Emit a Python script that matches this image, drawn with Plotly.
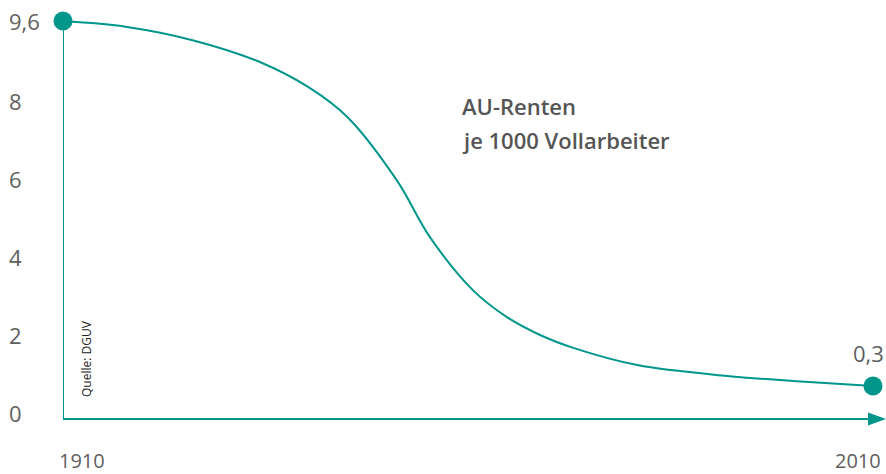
import plotly.graph_objects as go

# ---- data ----
years = [1910, 1917.9, 1926.0, 1934.3, 1940.5, 1945.1, 1951.2, 1955.3,
         1960.6, 1964.8, 1968.9, 1973.0, 1980.9, 1992.0, 2000.1, 2010]
values = [10.05, 9.90, 9.56, 9.00, 8.33, 7.59, 5.97, 4.51,
          3.15, 2.46, 2.00, 1.67, 1.23, 0.95, 0.82, 0.69]
ytick_vals = [0, 2, 4, 6, 8]
ytick_text = ["0", "2", "4", "6", "8"]
start_label = "9,6"
end_label = "0,3"
x_labels = ["1910", "2010"]
title_lines = ["AU-Renten", "je 1000 Vollarbeiter"]
source = "Quelle: DGUV"

TEAL = "#00968C"
GRAY = "#5f5f5f"
FONT = "Open Sans"

W, H = 886, 474
ML, MR, MT, MB = 63, 0, 10, 40
PX_X = 8.1      # px per year
PX_Y = 39.0     # px per unit
Y0_PX = 413     # pixel row of value 0
plot_w = W - ML - MR
plot_h = H - MT - MB
x_min = years[0]
x_max = x_min + plot_w / PX_X
y_min = -(MT + plot_h - Y0_PX) / PX_Y
y_max = (Y0_PX - MT) / PX_Y


def px2y(py):
    return (Y0_PX - py) / PX_Y


def px2x(px):
    return x_min + (px - ML) / PX_X


def px2paper_x(px):
    return (px - ML) / plot_w


def px2paper_y(py):
    return (MT + plot_h - py) / plot_h


fig = go.Figure()
fig.add_trace(go.Scatter(x=years, y=values, mode="lines",
                         line=dict(color=TEAL, width=2, shape="spline", smoothing=1.0),
                         hoverinfo="skip", cliponaxis=False))
fig.add_trace(go.Scatter(x=[years[0], years[-1]], y=[values[0], values[-1]], mode="markers",
                         marker=dict(color=TEAL, size=19), hoverinfo="skip", cliponaxis=False))

axis_y = px2y(419)
shapes = [
    dict(type="line", x0=x_min, x1=x_min, y0=axis_y, y1=values[0],
         line=dict(color=TEAL, width=2), layer="below"),
    dict(type="line", x0=x_min, x1=px2x(870), y0=axis_y, y1=axis_y,
         line=dict(color=TEAL, width=2), layer="below"),
    dict(type="path",
         path=f"M {px2x(868)},{px2y(412.5)} L {px2x(886)},{axis_y} L {px2x(868)},{px2y(425.5)} Z",
         fillcolor=TEAL, line=dict(color=TEAL, width=0)),
]

TICKFONT = dict(family=FONT, size=22, color=GRAY)
XFONT = dict(family=FONT, size=20, color=GRAY)
ann = []
for v, t in zip(ytick_vals, ytick_text):
    ann.append(dict(x=px2paper_x(7), xref="paper", y=v, yref="y", text=t,
                    xanchor="left", yanchor="middle", showarrow=False, font=TICKFONT))
ann.append(dict(x=px2paper_x(7), xref="paper", y=values[0], yref="y", text=start_label,
                xanchor="left", yanchor="middle", showarrow=False, font=TICKFONT))
ann.append(dict(x=years[-1], y=values[-1], text=end_label, xanchor="center", yanchor="middle",
                xshift=-5, yshift=33, showarrow=False, font=TICKFONT))
ann.append(dict(x=px2paper_x(57), xref="paper", y=px2paper_y(460), yref="paper", text=x_labels[0],
                xanchor="left", yanchor="middle", showarrow=False, font=XFONT))
ann.append(dict(x=px2paper_x(883), xref="paper", y=px2paper_y(460), yref="paper", text=x_labels[1],
                xanchor="right", yanchor="middle", showarrow=False, font=XFONT))
for i, line in enumerate(title_lines):
    ann.append(dict(x=px2paper_x(460), xref="paper", y=px2paper_y(106 + 34 * i), yref="paper",
                    text=line, xanchor="left", yanchor="middle", showarrow=False,
                    font=dict(family=FONT, size=22, color="#555555", weight=600)))
ann.append(dict(x=px2paper_x(86), xref="paper", y=px2paper_y(359), yref="paper", text=source,
                textangle=-90, xanchor="center", yanchor="middle", showarrow=False,
                font=dict(family=FONT, size=12, color="#222222")))

fig.update_layout(
    width=W, height=H,
    margin=dict(l=ML, r=MR, t=MT, b=MB),
    paper_bgcolor="white", plot_bgcolor="white",
    showlegend=False,
    xaxis=dict(range=[x_min, x_max], visible=False, fixedrange=True),
    yaxis=dict(range=[y_min, y_max], visible=False, fixedrange=True),
    shapes=shapes, annotations=ann,
)
fig.write_html("out.html", config={"displayModeBar": False},
               post_script="document.body.style.margin='0px';document.body.style.overflow='hidden';")
